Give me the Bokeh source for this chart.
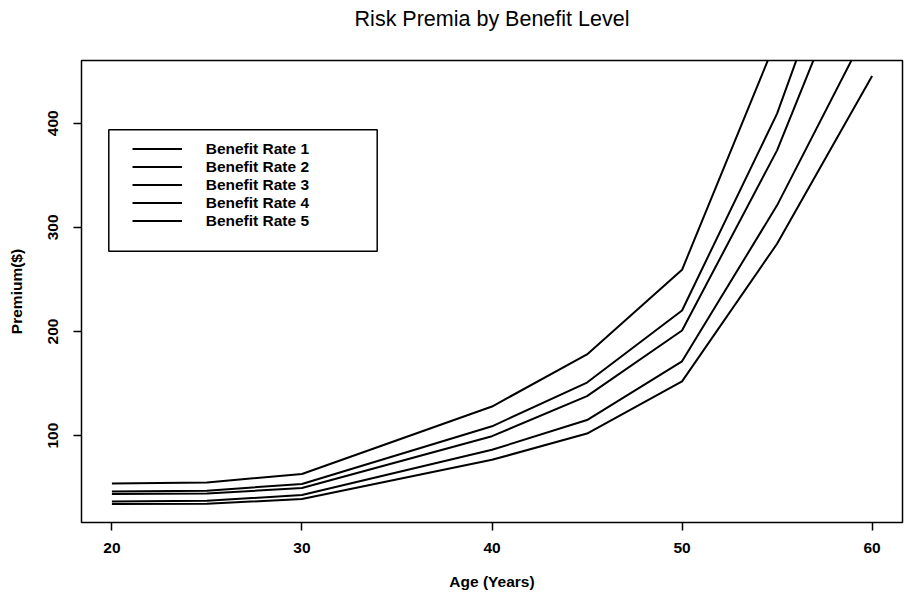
from bokeh.plotting import figure
from bokeh.models import Range1d, FixedTicker, Legend, LegendItem, BoxAnnotation, Title
from bokeh.embed import file_html
from bokeh.resources import INLINE

# ---- data ----
ages = [20, 25, 30, 40, 45, 50, 55, 60]
rate1 = [34.3, 34.6, 39.1, 76.8, 102.0, 152.2, 284.3, 445.4]
rate2 = [36.8, 37.4, 43.0, 86.4, 115.0, 171.4, 321.2, 499.0]
rate3 = [43.9, 44.5, 49.7, 99.5, 138.0, 201.0, 374.0, 600.0]
rate4 = [46.4, 47.2, 53.6, 109.0, 151.0, 220.2, 409.3, 662.0]
rate5 = [54.1, 55.0, 63.2, 128.0, 178.0, 259.3, 482.0, 760.0]
series = [rate1, rate2, rate3, rate4, rate5]
series_names = ["Benefit Rate 1", "Benefit Rate 2", "Benefit Rate 3",
                "Benefit Rate 4", "Benefit Rate 5"]
x_ticks = [20, 30, 40, 50, 60]
y_ticks = [100, 200, 300, 400]

FONT = "Liberation Sans"
LBL = "15.5px"

p = figure(width=906, height=599, output_backend="svg", toolbar_location=None,
           x_range=Range1d(18.4, 61.6), y_range=Range1d(16.6, 460.3),
           min_border_left=81, min_border_right=4, min_border_top=60,
           min_border_bottom=77, title="Risk Premia by Benefit Level")

p.title.align = "center"
p.title.vertical_align = "top"
p.title.text_font = FONT
p.title.text_font_size = "21.5px"
p.title.text_font_style = "normal"
p.title.text_color = "black"
p.title.standoff = 10

# thin spacer between the title and the frame
spacer = Title(text=" ", text_font_size="2px", standoff=19)
p.add_layout(spacer, "above")

p.background_fill_color = "white"
p.border_fill_color = "white"
p.outline_line_color = "black"
p.outline_line_width = 1.5
p.outline_line_alpha = 1.0
p.xgrid.visible = False
p.ygrid.visible = False

for ax in (p.xaxis[0], p.yaxis[0]):
    ax.axis_line_color = None
    ax.major_tick_in = 0
    ax.major_tick_out = 8
    ax.major_tick_line_color = "black"
    ax.major_tick_line_width = 1.5
    ax.minor_tick_line_color = None
    ax.major_label_text_font = FONT
    ax.major_label_text_font_size = LBL
    ax.major_label_text_font_style = "bold"
    ax.major_label_text_color = "black"
    ax.axis_label_text_font = FONT
    ax.axis_label_text_font_size = LBL
    ax.axis_label_text_font_style = "bold"
    ax.axis_label_text_color = "black"

p.xaxis[0].ticker = FixedTicker(ticks=x_ticks)
p.yaxis[0].ticker = FixedTicker(ticks=y_ticks)
p.xaxis[0].axis_label = "Age (Years)"
p.yaxis[0].axis_label = "Premium($)"
p.xaxis[0].major_label_standoff = 12
p.xaxis[0].axis_label_standoff = 17
p.yaxis[0].major_label_orientation = "vertical"
p.yaxis[0].major_label_standoff = 15
p.yaxis[0].axis_label_standoff = 21

items = []
for name, vals in zip(series_names, series):
    r = p.line(ages, vals, line_color="black", line_width=2)
    items.append(LegendItem(label=name, renderers=[r]))

legend = Legend(items=items, location=(50.7, 292.1), padding=0, spacing=0,
                label_height=17, glyph_height=17, glyph_width=50,
                label_standoff=24, label_text_font=FONT,
                label_text_font_size=LBL, label_text_font_style="bold",
                label_text_color="black", border_line_alpha=0,
                background_fill_alpha=0, margin=0)
p.add_layout(legend)

box = BoxAnnotation(left=27.3, right=295.7, bottom=271.3, top=392.7,
                    left_units="screen", right_units="screen",
                    top_units="screen", bottom_units="screen",
                    fill_alpha=0, line_color="black", line_alpha=1.0,
                    line_width=1.5)
p.add_layout(box)

open("out.html", "w").write(file_html(p, INLINE))
